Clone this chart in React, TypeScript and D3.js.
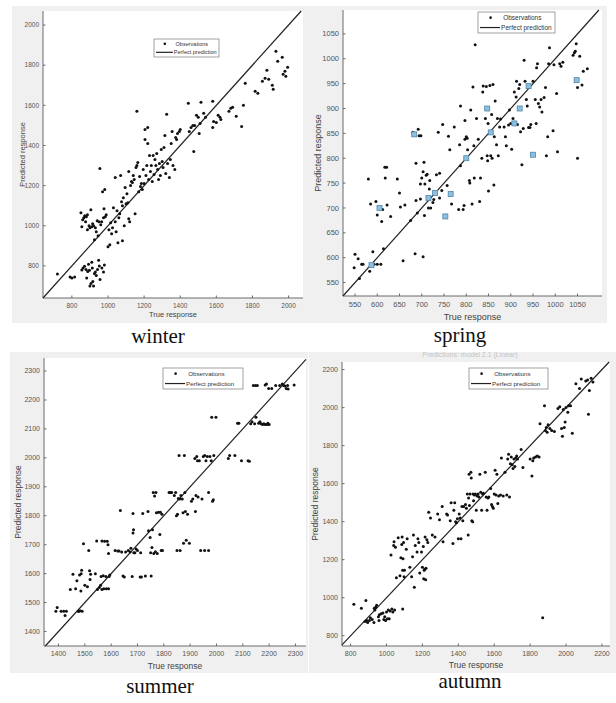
import React from 'react';
import * as d3 from 'd3';

// ---- data (true response, predicted response) ----
const WINTER_POINTS = [
  [720, 760], [790, 745], [800, 740], [815, 745],
  [855, 780], [862, 790], [870, 798], [878, 782], [882, 740], [888, 772], [892, 808], [897, 778],
  [900, 700], [906, 712], [910, 818], [913, 790], [916, 722], [920, 700], [925, 762], [930, 770],
  [935, 752], [942, 782], [948, 828], [952, 800], [956, 732], [966, 790], [975, 770], [980, 805],
  [850, 1065], [855, 995], [860, 1030], [866, 1040], [871, 1050], [876, 1020], [880, 1045], [886, 1055],
  [886, 980], [895, 1000], [900, 990], [905, 1080], [910, 995], [915, 1010], [920, 1000], [925, 930],
  [930, 990], [935, 970], [940, 1025], [945, 950], [950, 1020], [955, 1285], [960, 1005], [965, 1020],
  [970, 1170], [975, 1040], [978, 1085], [982, 1180], [985, 1045], [990, 1055], [1000, 895], [1005, 980],
  [1010, 905], [1015, 1015], [1020, 960], [1025, 990], [1030, 1090], [1040, 1240], [1040, 1020], [1045, 970],
  [1050, 1075], [1055, 915], [1060, 1040], [1065, 1060], [1070, 1250], [1075, 1120], [1080, 1100], [1080, 925],
  [1085, 1140], [1090, 1000], [1095, 1190], [1100, 1110], [1105, 1160], [1110, 1115], [1115, 1270], [1115, 1035],
  [1120, 1020], [1125, 1200], [1130, 1220], [1135, 1215], [1140, 1250], [1145, 1230], [1150, 1060], [1155, 1290],
  [1160, 1570], [1160, 1300], [1165, 1315], [1170, 1170], [1175, 1245], [1180, 1195], [1185, 1210], [1190, 1180],
  [1195, 1280], [1200, 1210], [1205, 1480], [1205, 1430], [1210, 1250], [1215, 1300], [1220, 1490], [1220, 1410],
  [1225, 1230], [1230, 1350], [1235, 1270], [1240, 1300], [1245, 1220], [1250, 1350], [1255, 1255], [1260, 1330],
  [1265, 1300], [1270, 1360], [1275, 1280], [1280, 1230], [1285, 1310], [1290, 1250], [1295, 1380], [1300, 1320],
  [1305, 1290], [1310, 1390], [1315, 1450], [1320, 1260], [1325, 1555], [1330, 1310], [1340, 1240], [1345, 1330],
  [1350, 1410], [1355, 1470], [1360, 1300], [1370, 1280], [1375, 1440], [1380, 1430], [1385, 1460], [1395, 1470],
  [1400, 1480], [1445, 1610], [1450, 1470], [1460, 1490], [1470, 1500], [1475, 1370], [1480, 1500], [1490, 1550],
  [1500, 1540], [1505, 1460], [1510, 1510], [1515, 1615], [1530, 1560], [1540, 1540], [1580, 1620], [1580, 1490],
  [1585, 1520], [1600, 1515], [1610, 1550], [1620, 1540], [1625, 1530], [1670, 1570], [1680, 1585], [1690, 1590],
  [1710, 1545], [1740, 1495], [1750, 1600], [1760, 1710], [1815, 1670], [1830, 1660], [1855, 1720], [1870, 1735],
  [1880, 1775], [1890, 1730], [1910, 1700], [1915, 1680], [1930, 1870], [1940, 1820], [1965, 1840], [1970, 1755],
  [1980, 1770], [1985, 1745], [1995, 1790],
];

const SPRING_POINTS = [
  [548, 580], [550, 607], [557, 598], [560, 558], [565, 587], [568, 587], [580, 758], [583, 573],
  [585, 708], [590, 612], [593, 587], [597, 713], [600, 587], [600, 686], [608, 587], [610, 673],
  [612, 697], [614, 618], [617, 782], [618, 760], [621, 782], [622, 706], [630, 683], [645, 758],
  [650, 730], [652, 702], [658, 594], [662, 706], [675, 675], [680, 852], [685, 608], [687, 790],
  [687, 715], [690, 690], [692, 858], [694, 845], [698, 845], [697, 748], [697, 718], [700, 760],
  [703, 602], [703, 773], [705, 792], [706, 685], [707, 748], [710, 766], [712, 768], [715, 700],
  [717, 738], [718, 755], [720, 700], [725, 711], [727, 717], [733, 767], [737, 852], [740, 720],
  [740, 770], [745, 735], [747, 868], [757, 745], [760, 844], [763, 817], [767, 708], [773, 863],
  [783, 697], [785, 827], [787, 785], [787, 905], [793, 697], [795, 705], [797, 876], [797, 838],
  [800, 843], [802, 840], [803, 817], [807, 755], [808, 750], [810, 897], [813, 708], [815, 943],
  [817, 825], [818, 760], [820, 1028], [823, 880], [827, 838], [830, 713], [832, 760], [835, 800],
  [837, 933], [838, 945], [843, 880], [845, 944], [850, 734], [848, 795], [847, 805], [849, 870],
  [853, 946], [855, 805], [857, 888], [858, 800], [860, 948], [862, 746], [863, 843], [865, 915],
  [868, 827], [870, 880], [872, 805], [875, 863], [877, 879], [885, 863], [888, 843], [890, 825],
  [895, 867], [897, 897], [900, 870], [902, 818], [905, 880], [908, 933], [912, 923], [913, 955],
  [915, 868], [918, 940], [920, 948], [922, 853], [925, 787], [928, 860], [930, 997], [932, 955],
  [935, 918], [937, 905], [940, 862], [943, 862], [945, 868], [950, 955], [955, 918], [957, 870],
  [958, 982], [960, 990], [962, 910], [965, 903], [968, 918], [970, 893], [975, 922], [978, 942],
  [980, 805], [983, 843], [985, 990], [987, 1022], [995, 855], [997, 988], [1003, 930], [1005, 813],
  [1010, 990], [1013, 985], [1017, 993], [1040, 1007], [1043, 1012], [1045, 1015], [1047, 1030], [1050, 942],
  [1050, 800], [1055, 1005], [1060, 947], [1063, 975], [1072, 980],
];

const SPRING_SQUARES = [
  [587, 585], [605, 700], [683, 848], [715, 720], [730, 730], [753, 683], [765, 728], [800, 800],
  [847, 900], [855, 852], [908, 870], [920, 900], [940, 945], [950, 807], [1048, 957],
];

const SUMMER_POINTS = [
  [1390, 1470], [1395, 1483], [1410, 1470], [1420, 1470], [1425, 1455], [1430, 1470], [1445, 1545], [1455, 1598],
  [1465, 1548], [1470, 1575], [1475, 1470], [1478, 1470], [1480, 1595], [1482, 1472], [1485, 1540], [1486, 1600],
  [1488, 1612], [1490, 1470], [1495, 1703], [1500, 1560], [1510, 1555], [1515, 1680], [1518, 1610], [1520, 1580],
  [1522, 1598], [1540, 1600], [1545, 1713], [1548, 1545], [1555, 1552], [1560, 1560], [1562, 1590], [1565, 1545],
  [1565, 1713], [1570, 1593], [1572, 1548], [1575, 1712], [1580, 1590], [1582, 1548], [1585, 1712], [1588, 1700],
  [1590, 1548], [1590, 1670], [1592, 1590], [1595, 1595], [1615, 1680], [1625, 1678], [1630, 1678], [1635, 1818],
  [1640, 1675], [1645, 1592], [1650, 1588], [1655, 1675], [1665, 1680], [1672, 1675], [1675, 1688], [1680, 1590],
  [1683, 1808], [1683, 1740], [1685, 1752], [1686, 1672], [1690, 1672], [1695, 1685], [1700, 1680], [1710, 1588],
  [1712, 1672], [1715, 1588], [1720, 1808], [1730, 1592], [1740, 1815], [1742, 1748], [1748, 1725], [1750, 1672],
  [1752, 1592], [1755, 1690], [1757, 1752], [1760, 1880], [1762, 1670], [1765, 1868], [1768, 1676], [1770, 1880],
  [1772, 1810], [1775, 1670], [1780, 1812], [1785, 1735], [1787, 1812], [1790, 1680], [1793, 1805], [1795, 1680],
  [1820, 1880], [1825, 1880], [1830, 1880], [1840, 1870], [1845, 1880], [1848, 1800], [1850, 1680], [1852, 1805],
  [1855, 1860], [1858, 2008], [1860, 1858], [1862, 1680], [1865, 1870], [1870, 1858], [1873, 1810], [1875, 1705],
  [1878, 2008], [1880, 1880], [1882, 1815], [1885, 1715], [1890, 1805], [1897, 1705], [1905, 1850], [1910, 1858],
  [1918, 1998], [1920, 1815], [1922, 1870], [1925, 2005], [1928, 1990], [1930, 1865], [1935, 1990], [1940, 1680],
  [1945, 1858], [1950, 2005], [1955, 1680], [1955, 2008], [1960, 1990], [1965, 2005], [1970, 1880], [1970, 1680],
  [1975, 2005], [1980, 1990], [1982, 2140], [1985, 1850], [1988, 1855], [1990, 2008], [1998, 2140], [2045, 1998],
  [2050, 2008], [2070, 2008], [2080, 2120], [2085, 2120], [2095, 1990], [2120, 1990], [2125, 1988], [2130, 2118],
  [2135, 2125], [2140, 2250], [2145, 2118], [2148, 2250], [2150, 2140], [2155, 2250], [2160, 2120], [2165, 2125],
  [2170, 2118], [2175, 2115], [2180, 2118], [2185, 2252], [2185, 2115], [2190, 2255], [2192, 2115], [2195, 2120],
  [2198, 2240], [2200, 2115], [2210, 2240], [2225, 2250], [2240, 2250], [2250, 2255], [2255, 2250], [2260, 2248],
  [2265, 2240], [2270, 2250], [2272, 2238], [2295, 2252],
];

const AUTUMN_POINTS = [
  [818, 965], [860, 945], [880, 875], [885, 985], [890, 880], [895, 870], [905, 880], [910, 895],
  [920, 885], [930, 870], [932, 945], [935, 935], [940, 950], [945, 960], [955, 900], [958, 880],
  [960, 910], [970, 915], [980, 920], [985, 885], [990, 900], [995, 880], [1000, 925], [1005, 890],
  [1010, 935], [1015, 890], [1020, 930], [1025, 1225], [1030, 940], [1035, 925], [1040, 1275], [1042, 1295],
  [1045, 935], [1050, 1265], [1055, 1105], [1065, 1315], [1075, 1115], [1080, 1210], [1085, 1280], [1087, 1320],
  [1090, 1145], [1090, 940], [1092, 1205], [1095, 1290], [1098, 1110], [1100, 1145], [1110, 1255], [1115, 1310],
  [1130, 1160], [1140, 1110], [1145, 1215], [1150, 1330], [1155, 1055], [1160, 1275], [1170, 1240], [1175, 1310],
  [1180, 1290], [1185, 1130], [1195, 1240], [1200, 1160], [1205, 1270], [1207, 1100], [1210, 1145], [1212, 1150],
  [1215, 1320], [1218, 1095], [1220, 1155], [1225, 1305], [1230, 1290], [1235, 1450], [1245, 1420], [1255, 1330],
  [1270, 1320], [1285, 1440], [1295, 1410], [1310, 1480], [1315, 1295], [1335, 1440], [1340, 1435], [1355, 1405],
  [1360, 1500], [1370, 1285], [1375, 1460], [1380, 1500], [1385, 1400], [1390, 1395], [1395, 1415], [1400, 1310],
  [1405, 1440], [1410, 1420], [1415, 1310], [1420, 1480], [1425, 1405], [1430, 1480], [1440, 1490], [1445, 1470],
  [1450, 1545], [1455, 1330], [1457, 1525], [1460, 1650], [1462, 1485], [1465, 1545], [1470, 1660], [1472, 1630],
  [1475, 1405], [1480, 1400], [1482, 1545], [1485, 1510], [1490, 1540], [1495, 1545], [1500, 1460], [1505, 1535],
  [1510, 1545], [1515, 1530], [1520, 1650], [1525, 1555], [1530, 1460], [1535, 1545], [1540, 1550], [1550, 1660],
  [1555, 1530], [1560, 1460], [1565, 1525], [1570, 1530], [1580, 1575], [1585, 1490], [1590, 1480], [1595, 1470],
  [1600, 1545], [1605, 1670], [1610, 1540], [1615, 1650], [1620, 1495], [1625, 1535], [1635, 1540], [1640, 1735],
  [1650, 1535], [1660, 1660], [1670, 1540], [1675, 1730], [1680, 1755], [1685, 1530], [1690, 1705], [1695, 1740],
  [1700, 1700], [1705, 1680], [1710, 1730], [1715, 1690], [1720, 1735], [1725, 1745], [1730, 1730], [1750, 1780],
  [1760, 1685], [1800, 1730], [1810, 1640], [1815, 1720], [1820, 1735], [1830, 1740], [1840, 1745], [1850, 1740],
  [1855, 1915], [1870, 895], [1880, 2010], [1885, 1880], [1890, 1895], [1895, 1870], [1900, 1910], [1910, 1890],
  [1920, 1880], [1935, 1875], [1955, 1995], [1965, 2005], [1975, 1890], [1980, 1850], [1985, 1990], [1990, 1895],
  [1995, 1925], [2000, 2000], [2010, 1975], [2015, 2010], [2025, 2010], [2035, 1865], [2055, 2125], [2075, 2100],
  [2085, 2150], [2125, 1965], [2110, 2140], [2120, 2145], [2130, 2090], [2140, 2155], [2150, 2135],
];

const WINTER_TICKS = [800, 1000, 1200, 1400, 1600, 1800, 2000];
const SPRING_TICKS = [550, 600, 650, 700, 750, 800, 850, 900, 950, 1000, 1050];
const SUMMER_TICKS = [1400, 1500, 1600, 1700, 1800, 1900, 2000, 2100, 2200, 2300];
const AUTUMN_TICKS = [800, 1000, 1200, 1400, 1600, 1800, 2000, 2200];

const SANS = "'Liberation Sans', Arial, sans-serif";
const SERIF = "'Liberation Serif', 'Times New Roman', serif";

const PANELS = [
  {
    caption: 'winter', points: WINTER_POINTS, squares: [], ticks: WINTER_TICKS,
    xDomain: [640, 2080], yDomain: [640, 2070],
    plot: { x0: 43, x1: 303, y0: 11, y1: 298 }, bg: { x0: 12, x1: 307, y0: 6, y1: 323 },
    legend: { x: 154, y: 39, w: 65, h: 18, fs: 5.5 },
    capX: 158, capY: 343, tickFs: 6.5, labelFs: 7.5, yLabelX: 22, xLabelY: 317,
  },
  {
    caption: 'spring', points: SPRING_POINTS, squares: SPRING_SQUARES, ticks: SPRING_TICKS,
    xDomain: [523, 1105], yDomain: [523, 1098],
    plot: { x0: 343, x1: 602, y0: 10, y1: 296 }, bg: { x0: 307, x1: 607, y0: 6, y1: 323 },
    legend: { x: 478, y: 12, w: 77, h: 21, fs: 6.5 },
    capX: 460, capY: 342, tickFs: 7.5, labelFs: 9, yLabelX: 318, xLabelY: 320,
  },
  {
    caption: 'summer', points: SUMMER_POINTS, squares: [], ticks: SUMMER_TICKS,
    xDomain: [1345, 2340], yDomain: [1350, 2345],
    plot: { x0: 44, x1: 306, y0: 358, y1: 646 }, bg: { x0: 10, x1: 308, y0: 352, y1: 673 },
    legend: { x: 163, y: 368, w: 80, h: 21, fs: 6.2 },
    capX: 160, capY: 693, tickFs: 7, labelFs: 8.5, yLabelX: 18, xLabelY: 669,
  },
  {
    caption: 'autumn', points: AUTUMN_POINTS, squares: [], ticks: AUTUMN_TICKS,
    xDomain: [752, 2245], yDomain: [746, 2240],
    plot: { x0: 342, x1: 610, y0: 362, y1: 646 }, bg: { x0: 309, x1: 616, y0: 352, y1: 673 },
    legend: { x: 469, y: 368, w: 79, h: 21, fs: 6.2 },
    capX: 470, capY: 688, tickFs: 7, labelFs: 8.5, yLabelX: 315, xLabelY: 668,
  },
];

function Panel({ p }) {
  const x = d3.scaleLinear().domain(p.xDomain).range([p.plot.x0, p.plot.x1]);
  const y = d3.scaleLinear().domain(p.yDomain).range([p.plot.y1, p.plot.y0]);
  const lo = Math.max(p.xDomain[0], p.yDomain[0]);
  const hi = Math.min(p.xDomain[1], p.yDomain[1]);
  const diag = d3.line()([[x(lo), y(lo)], [x(hi), y(hi)]]);
  const lg = p.legend;
  const midX = (p.plot.x0 + p.plot.x1) / 2;
  const midY = (p.plot.y0 + p.plot.y1) / 2;
  return (
    <g>
      <rect x={p.bg.x0} y={p.bg.y0} width={p.bg.x1 - p.bg.x0} height={p.bg.y1 - p.bg.y0} fill="#f0f0f0" />
      <rect x={p.plot.x0} y={p.plot.y0} width={p.plot.x1 - p.plot.x0} height={p.plot.y1 - p.plot.y0} fill="#fff" />
      {/* axes */}
      <line x1={p.plot.x0} x2={p.plot.x0} y1={p.plot.y0} y2={p.plot.y1} stroke="#6a6a6a" strokeWidth={1} />
      <line x1={p.plot.x0} x2={p.plot.x1} y1={p.plot.y1} y2={p.plot.y1} stroke="#6a6a6a" strokeWidth={1} />
      {p.ticks.map(t => (
        <g key={'y' + t}>
          <line x1={p.plot.x0} x2={p.plot.x0 + 2.5} y1={y(t)} y2={y(t)} stroke="#6a6a6a" />
          <text x={p.plot.x0 - 4} y={y(t)} dy="0.35em" textAnchor="end" fontSize={p.tickFs} fill="#555" fontFamily={SANS}>{t}</text>
        </g>
      ))}
      {p.ticks.map(t => (
        <g key={'x' + t}>
          <line x1={x(t)} x2={x(t)} y1={p.plot.y1} y2={p.plot.y1 - 2.5} stroke="#6a6a6a" />
          <text x={x(t)} y={p.plot.y1 + 5 + p.tickFs * 0.75} textAnchor="middle" fontSize={p.tickFs} fill="#555" fontFamily={SANS}>{t}</text>
        </g>
      ))}
      <text x={midX} y={p.xLabelY} textAnchor="middle" fontSize={p.labelFs} fill="#444" fontFamily={SANS}>True response</text>
      <text transform={`translate(${p.yLabelX},${midY}) rotate(-90)`} textAnchor="middle" dy="0.35em" fontSize={p.labelFs} fill="#444" fontFamily={SANS}>Predicted response</text>
      {/* identity line */}
      <path d={diag} stroke="#222" strokeWidth={1.2} fill="none" />
      {p.points.map((d, i) => (
        <circle key={i} cx={x(d[0])} cy={y(d[1])} r={1.5} fill="#111" />
      ))}
      {p.squares.map((d, i) => (
        <rect key={'s' + i} x={x(d[0]) - 2.5} y={y(d[1]) - 2.5} width={5} height={5} fill="#8dc0e0" stroke="#4f86aa" strokeWidth={0.8} />
      ))}
      {/* legend */}
      <rect x={lg.x} y={lg.y} width={lg.w} height={lg.h} fill="#fff" stroke="#8a8a8a" strokeWidth={0.8} />
      <circle cx={lg.x + lg.h * 0.6} cy={lg.y + lg.h * 0.27} r={1.3} fill="#111" />
      <text x={lg.x + lg.h * 1.2} y={lg.y + lg.h * 0.27} dy="0.35em" fontSize={lg.fs} fill="#333" fontFamily={SANS}>Observations</text>
      <line x1={lg.x + 2} x2={lg.x + lg.h * 1.05} y1={lg.y + lg.h * 0.74} y2={lg.y + lg.h * 0.74} stroke="#222" strokeWidth={1.2} />
      <text x={lg.x + lg.h * 1.1} y={lg.y + lg.h * 0.74} dy="0.35em" fontSize={lg.fs} fill="#333" fontFamily={SANS}>Perfect prediction</text>
      <text x={p.capX} y={p.capY} textAnchor="middle" fontSize={21} fill="#111" fontFamily={SERIF}>{p.caption}</text>
    </g>
  );
}

export default function App() {
  return (
    <svg width={616} height={703} style={{ position: 'absolute', left: 0, top: 0, background: '#fff' }}>
      {PANELS.map(p => <Panel key={p.caption} p={p} />)}
      <text x={470} y={357} textAnchor="middle" fontSize={7} fill="#c4c4c4" fontFamily={SANS}>Predictions: model 2.1 (Linear)</text>
    </svg>
  );
}
